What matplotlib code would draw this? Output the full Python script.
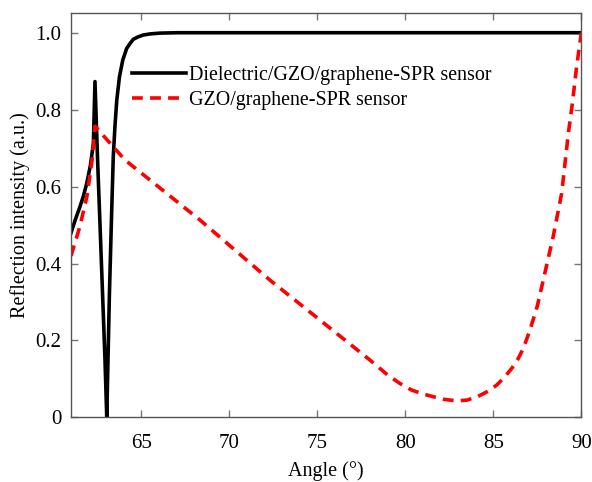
import matplotlib
matplotlib.use("Agg")
import matplotlib.pyplot as plt

plt.rcParams['font.family'] = ['Liberation Serif', 'DejaVu Serif']

angle_diel = [61.0, 61.25, 61.51, 61.7, 61.89, 62.1, 62.27, 62.36, 62.5, 62.65,
              62.8, 62.93, 63.03, 63.1, 63.18, 63.3, 63.40, 63.5, 63.60, 63.75,
              63.94, 64.16, 64.35, 64.54, 64.8, 65.1, 65.5, 66.06, 67.0, 68.0,
              75.0, 90.0]
refl_diel = [0.48, 0.515, 0.548, 0.575, 0.608, 0.655, 0.712, 0.873, 0.68, 0.496,
             0.31, 0.149, 0.0, 0.15, 0.32, 0.52, 0.678, 0.76, 0.825, 0.885,
             0.929, 0.959, 0.972, 0.983, 0.989, 0.994, 0.997, 0.999, 1.0, 1.0,
             1.0, 1.0]

angle_gzo = [61.0, 61.5, 61.9, 62.2, 62.36, 64.07, 68.33, 72.3, 75.15, 77.99,
             79.0, 79.7, 80.36, 81.0, 81.57, 82.2, 82.91, 83.5, 84.1, 84.7,
             85.19, 85.6, 86.04, 86.4, 86.7, 87.08, 87.5, 87.9, 88.4, 88.88,
             89.26, 89.5, 89.73, 90.0]
refl_gzo = [0.42, 0.496, 0.574, 0.67, 0.757, 0.669, 0.513, 0.357, 0.253, 0.149,
            0.11, 0.088, 0.071, 0.061, 0.054, 0.047, 0.043, 0.045, 0.054, 0.068,
            0.084, 0.103, 0.127, 0.152, 0.179, 0.227, 0.29, 0.37, 0.47, 0.582,
            0.738, 0.82, 0.911, 1.0]

label_diel = "Dielectric/GZO/graphene-SPR sensor"
label_gzo = "GZO/graphene-SPR sensor"
xticks = [65, 70, 75, 80, 85, 90]
yticks = [0, 0.2, 0.4, 0.6, 0.8, 1.0]
yticklabels = ["0", "0.2", "0.4", "0.6", "0.8", "1.0"]

fig = plt.figure(figsize=(5.92, 4.82), dpi=100)
ax = fig.add_axes([0.120, 0.134, 0.862, 0.838])

ax.plot(angle_diel, refl_diel, color='black', lw=2.6, label=label_diel)
ax.plot(angle_gzo, refl_gzo, color='#ff0000', lw=2.6, ls=(0, (3, 2)),
        label=label_gzo)

ax.set_xlim(61, 90)
ax.set_ylim(0, 1.05)
ax.set_xticks(xticks)
ax.set_yticks(yticks)
ax.set_yticklabels(yticklabels)
ax.tick_params(direction='in', top=True, right=True, length=5, width=1,
               color='#777777', labelsize=15)
ax.tick_params(axis='x', pad=12)
ax.tick_params(axis='y', pad=7)
for s in ax.spines.values():
    s.set_color('#555555')
    s.set_linewidth(1)

ax.set_xlabel("Angle (°)", fontsize=14.5, labelpad=6)
ax.set_ylabel("Reflection intensity (a.u.)", fontsize=14.5, labelpad=4)

leg = ax.legend(loc='upper left', bbox_to_anchor=(0.104, 0.89), frameon=False,
                fontsize=14.4, handlelength=2.7, handletextpad=0.15,
                labelspacing=0.32, borderaxespad=0)

fig.savefig("out.png", dpi=100)
